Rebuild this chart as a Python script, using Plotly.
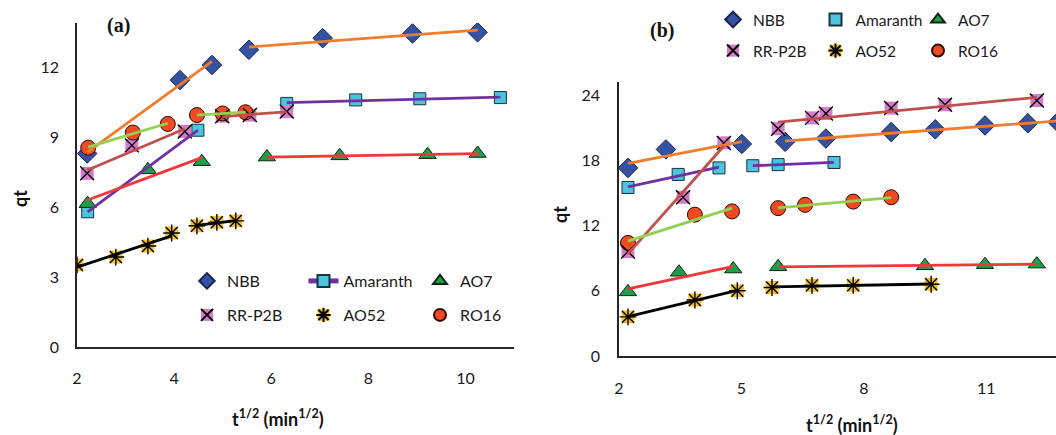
import numpy as np
import plotly.graph_objects as go

W, H = 1056, 435

# ---------------- Panel (a) data ----------------
a_nbb_x = [2.21, 4.12, 4.78, 5.54, 7.06, 8.91, 10.25]
a_nbb_y = [8.30, 11.45, 12.10, 12.75, 13.25, 13.45, 13.50]
a_ama_x = [2.22, 4.49, 6.32, 7.74, 9.06, 10.72]
a_ama_y = [5.80, 9.30, 10.45, 10.60, 10.65, 10.70]
a_ao7_x = [2.22, 3.46, 4.57, 5.91, 7.41, 9.22, 10.25]
a_ao7_y = [6.15, 7.60, 7.95, 8.15, 8.20, 8.25, 8.30]
a_rr_x = [2.21, 3.13, 4.22, 4.99, 5.56, 6.32]
a_rr_y = [7.45, 8.65, 9.25, 9.90, 9.95, 10.10]
a_ao52_x = [2.00, 2.80, 3.46, 3.95, 4.47, 4.88, 5.27]
a_ao52_y = [3.52, 3.86, 4.33, 4.89, 5.20, 5.35, 5.41]
a_ro16_x = [2.23, 3.15, 3.87, 4.47, 5.00, 5.47]
a_ro16_y = [8.55, 9.20, 9.57, 9.95, 10.02, 10.07]
# index where the second linear stage starts
a_breaks = {"NBB": 3, "Amaranth": 2, "AO7": 3, "RR-P2B": 3, "AO52": 4, "RO16": 3}

# ---------------- Panel (b) data ----------------
b_nbb_x = [2.22, 3.15, 5.01, 6.07, 7.07, 8.67, 9.75, 10.97, 12.02, 12.75]
b_nbb_y = [17.3, 19.0, 19.5, 19.7, 20.0, 20.6, 20.85, 21.2, 21.4, 21.5]
b_ama_x = [2.22, 3.45, 4.45, 5.28, 5.90, 7.27]
b_ama_y = [15.5, 16.7, 17.3, 17.5, 17.6, 17.8]
b_ao7_x = [2.22, 3.47, 4.80, 5.90, 9.50, 10.97, 12.24]
b_ao7_y = [5.9, 7.7, 8.0, 8.2, 8.3, 8.4, 8.45]
b_rr_x = [2.22, 3.57, 4.57, 5.90, 6.73, 7.07, 8.67, 9.99, 12.24]
b_rr_y = [9.6, 14.6, 19.6, 20.9, 21.9, 22.3, 22.8, 23.1, 23.5]
b_ao52_x = [2.22, 3.86, 4.90, 5.75, 6.73, 7.74, 9.65]
b_ao52_y = [3.6, 5.15, 6.0, 6.3, 6.5, 6.5, 6.6]
b_ro16_x = [2.22, 3.86, 4.77, 5.90, 6.56, 7.74, 8.67]
b_ro16_y = [10.4, 13.0, 13.3, 13.6, 13.9, 14.2, 14.6]
b_breaks = {"NBB": 3, "Amaranth": 3, "AO7": 3, "RR-P2B": 3, "AO52": 3, "RO16": 3}

series_names = ["NBB", "Amaranth", "AO7", "RR-P2B", "AO52", "RO16"]
row1_names = ["NBB", "Amaranth", "AO7"]

a_data = {"NBB": (a_nbb_x, a_nbb_y), "Amaranth": (a_ama_x, a_ama_y), "AO7": (a_ao7_x, a_ao7_y),
          "RR-P2B": (a_rr_x, a_rr_y), "AO52": (a_ao52_x, a_ao52_y), "RO16": (a_ro16_x, a_ro16_y)}
b_data = {"NBB": (b_nbb_x, b_nbb_y), "Amaranth": (b_ama_x, b_ama_y), "AO7": (b_ao7_x, b_ao7_y),
          "RR-P2B": (b_rr_x, b_rr_y), "AO52": (b_ao52_x, b_ao52_y), "RO16": (b_ro16_x, b_ro16_y)}

# ---------------- styles ----------------
STYLE = {
    "NBB": dict(symbol="diamond", fill="#3451A3", edge="#16224A", size=15, line="#F07C2C", overlay=None),
    "Amaranth": dict(symbol="square", fill="#4EC3E0", edge="#16343D", size=12, line="#7030A0", overlay=None),
    "AO7": dict(symbol="triangle-up", fill="#1E9E4A", edge="#0B2612", size=15, line="#F3363A", overlay=None),
    "RR-P2B": dict(symbol="square", fill="#D67BCB", edge=None, size=13, line="#C0504D", overlay="x-thin"),
    "AO52": dict(symbol="square", fill="#F5C232", edge=None, size=13, line="#000000", overlay="asterisk"),
    "RO16": dict(symbol="circle", fill="#EF4A23", edge="#2A0A00", size=15, line="#92D050", overlay=None),
}
FONT = "Lato, 'Open Sans', sans-serif"
LINE_W = 2.8

fig = go.Figure()


def marker_dict(st, size=None):
    m = dict(symbol=st["symbol"], color=st["fill"], size=size or st["size"])
    if st["edge"]:
        m["line"] = dict(color=st["edge"], width=1)
    else:
        m["line"] = dict(width=0)
    return m


def add_panel(data, breaks, xa, ya, leg1, leg2, leg_ovl, amaranth_line_legend):
    # markers
    for name in series_names:
        x, y = data[name]
        st = STYLE[name]
        leg = leg1 if name in row1_names else leg2
        show = not (name == "Amaranth" and amaranth_line_legend)
        if name == "Amaranth" and amaranth_line_legend:
            fig.add_trace(go.Scatter(x=[None], y=[None], mode="lines+markers", name=name,
                                     line=dict(color=st["line"], width=LINE_W),
                                     marker=marker_dict(st), legend=leg, xaxis=xa, yaxis=ya))
        fig.add_trace(go.Scatter(x=x, y=y, mode="markers", name=name, showlegend=show,
                                 marker=marker_dict(st), legend=leg, xaxis=xa, yaxis=ya,
                                 cliponaxis=True))
    # overlay glyphs (X / asterisk) on the squares
    for name in series_names:
        st = STYLE[name]
        if st["overlay"]:
            x, y = data[name]
            fig.add_trace(go.Scatter(x=x, y=y, mode="markers", name=" ", showlegend=True,
                                     legend=leg_ovl, xaxis=xa, yaxis=ya,
                                     marker=dict(symbol=st["overlay"], size=st["size"] + 1,
                                                 color="#000000",
                                                 line=dict(color="#000000", width=1.4))))
    # two linear stages (least-squares fits of each stage)
    for name in series_names:
        x, y = data[name]
        k = breaks[name]
        for lo, hi in ((0, k), (k, len(x))):
            xs = np.array(x[lo:hi], dtype=float)
            ys = np.array(y[lo:hi], dtype=float)
            if len(xs) < 2:
                continue
            slope, icpt = np.polyfit(xs, ys, 1)
            xe = np.array([xs[0], xs[-1]])
            fig.add_trace(go.Scatter(x=xe, y=slope * xe + icpt, mode="lines", showlegend=False,
                                     line=dict(color=STYLE[name]["line"], width=LINE_W),
                                     xaxis=xa, yaxis=ya, hoverinfo="skip"))


add_panel(a_data, a_breaks, "x", "y", "legend", "legend2", "legend3", True)
add_panel(b_data, b_breaks, "x2", "y2", "legend4", "legend5", "legend6", False)


def px(v):
    return v / W


def py(v):
    return 1 - v / H


axis_common = dict(showline=True, linecolor="#262626", linewidth=1.5, showgrid=False,
                   zeroline=False, ticks="", automargin=False,
                   tickfont=dict(family=FONT, size=16, color="#1a1a1a"))

fig.update_layout(
    width=W, height=H, margin=dict(l=0, r=0, t=0, b=0, autoexpand=False),
    paper_bgcolor="white", plot_bgcolor="white",
    xaxis=dict(domain=[px(77), px(514)], range=[2, 11], tick0=2, dtick=2, anchor="y",
               ticklabelstandoff=16, **axis_common),
    yaxis=dict(domain=[py(347), py(23)], range=[0, 13.9], tick0=0, dtick=3, anchor="x",
               ticklabelstandoff=13, **axis_common),
    xaxis2=dict(domain=[px(619), 1.0], range=[2, 12.71], tick0=2, dtick=3, anchor="y2",
                ticklabelstandoff=17, **axis_common),
    yaxis2=dict(domain=[py(356), py(82)], range=[0, 25.2], tick0=0, dtick=6, anchor="x2",
                ticklabelstandoff=14, **axis_common),
    showlegend=True,
)

leg_common = dict(orientation="h", xanchor="left", yanchor="middle", entrywidthmode="pixels",
                  bgcolor="rgba(0,0,0,0)", itemsizing="constant", traceorder="normal",
                  tracegroupgap=0)
fa = dict(family=FONT, size=16, color="#1a1a1a")
fb = dict(family=FONT, size=15.5, color="#1a1a1a")
fig.update_layout(
    legend=dict(x=px(187), y=py(281), entrywidth=71.5, font=fa, **leg_common),
    legend2=dict(x=px(187), y=py(315), entrywidth=71.5, font=fa, **leg_common),
    legend3=dict(x=px(187), y=py(315), entrywidth=71.5, font=fa, **leg_common),
    legend4=dict(x=px(713), y=py(20), entrywidth=57.5, font=fb, **leg_common),
    legend5=dict(x=px(713), y=py(51), entrywidth=57.5, font=fb, **leg_common),
    legend6=dict(x=px(713), y=py(51), entrywidth=57.5, font=fb, **leg_common),
)

ann = []
ann.append(dict(text="<b>(a)</b>", x=px(118), y=py(26), font=dict(family="Liberation Serif", size=20, color="#111")))
ann.append(dict(text="<b>(b)</b>", x=px(662), y=py(31), font=dict(family="Liberation Serif", size=20, color="#111")))
ann.append(dict(text="<b>qt</b>", x=px(20), y=py(199), textangle=-90, font=dict(family=FONT, size=18, color="#111")))
ann.append(dict(text="<b>qt</b>", x=px(560), y=py(215), textangle=-90, font=dict(family=FONT, size=18, color="#111")))
ann.append(dict(text="<b>t<sup>1/2</sup> (min<sup>1/2</sup>)</b>", x=px(278), y=py(418), font=dict(family=FONT, size=18, color="#111")))
ann.append(dict(text="<b>t<sup>1/2</sup> (min<sup>1/2</sup>)</b>", x=px(852), y=py(424), font=dict(family=FONT, size=18, color="#111")))
for a in ann:
    a.update(xref="paper", yref="paper", showarrow=False, xanchor="center", yanchor="middle")
fig.update_layout(annotations=ann)

# remove the browser's default 8px page margin so the figure fills the window exactly
fig.write_html("out.html", config={"displayModeBar": False},
               post_script="document.body.style.margin='0';document.body.style.overflow='hidden';")
